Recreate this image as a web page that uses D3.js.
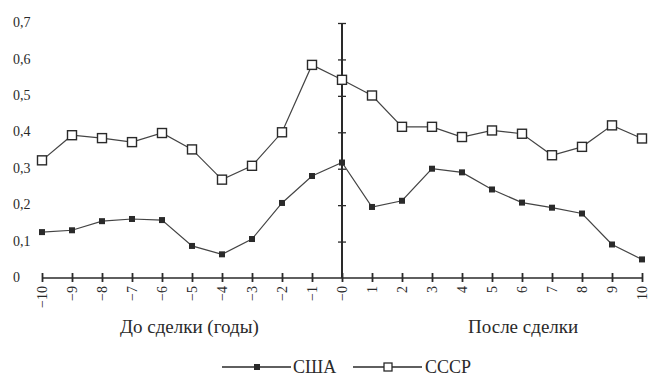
<!DOCTYPE html>
<html>
<head>
<meta charset="utf-8">
<script src="https://cdn.jsdelivr.net/npm/d3@7"></script>
<style>
  body { margin: 0; background: #fff; }
  svg text { font-family: "Liberation Serif", "Times New Roman", "DejaVu Serif", serif !important; }
</style>
</head>
<body>
<div id="graph"></div>
<script>
// years relative to the deal
var years = [-10, -9, -8, -7, -6, -5, -4, -3, -2, -1, 0, 1, 2, 3, 4, 5, 6, 7, 8, 9, 10];
var yearLabels = ["\u221210", "\u22129", "\u22128", "\u22127", "\u22126", "\u22125", "\u22124", "\u22123", "\u22122", "\u22121", "\u22120",
                  "1", "2", "3", "4", "5", "6", "7", "8", "9", "10"];
var usa  = [0.126, 0.131, 0.156, 0.162, 0.159, 0.088, 0.065, 0.107, 0.206, 0.280, 0.317,
            0.195, 0.212, 0.300, 0.290, 0.243, 0.207, 0.193, 0.177, 0.092, 0.051];
var ussr = [0.323, 0.392, 0.384, 0.373, 0.398, 0.353, 0.270, 0.308, 0.400, 0.585, 0.544,
            0.501, 0.415, 0.415, 0.387, 0.405, 0.396, 0.337, 0.360, 0.419, 0.383];
var yTicks = [0, 0.1, 0.2, 0.3, 0.4, 0.5, 0.6, 0.7];
var yTickLabels = ["0", "0,1", "0,2", "0,3", "0,4", "0,5", "0,6", "0,7"];
var seriesNames = ["США", "СССР"];

var width = 650, height = 377;
var ink = "#2a2a2a";

var svg = d3.select("#graph").append("svg")
  .attr("width", width).attr("height", height)
  .style("display", "block");

var x = d3.scaleLinear().domain([-10, 10]).range([42, 642]);
var y = d3.scaleLinear().domain([0, 0.7]).range([278, 23]);

// x axis
var xAxis = d3.axisBottom(x).tickValues(years).tickSize(4)
  .tickFormat(function (d, i) { return yearLabels[i]; });
var gx = svg.append("g").attr("transform", "translate(0," + y(0) + ")").call(xAxis);
gx.select(".domain").attr("d", "M" + x(-10) + ",0H" + x(10))
  .attr("stroke", ink).attr("stroke-width", 1.4);
gx.selectAll(".tick line").attr("y1", -5).attr("y2", 4)
  .attr("stroke", ink).attr("stroke-width", 1.8);
gx.selectAll(".tick text")
  .attr("fill", ink)
  .style("font-size", "14px")
  .attr("text-anchor", "end")
  .attr("dy", "0.32em")
  .attr("transform", "translate(0,8) rotate(-90)")
  .attr("x", 0).attr("y", 0);

// vertical axis at zero
var yAxis = d3.axisLeft(y).tickValues(yTicks.slice(1)).tickSize(4).tickFormat("");
var gy = svg.append("g").attr("transform", "translate(" + x(0) + ",0)").call(yAxis);
gy.select(".domain").attr("d", "M0," + y(0) + "V" + y(0.7))
  .attr("stroke", ink).attr("stroke-width", 2);
gy.selectAll(".tick line").attr("x1", -4).attr("x2", 4)
  .attr("stroke", ink).attr("stroke-width", 1.3);

// y labels on the left
svg.append("g").selectAll("text").data(yTicks).enter().append("text")
  .attr("x", 13).attr("y", function (d) { return y(d); })
  .attr("dy", "0.3em")
  .attr("fill", ink)
  .style("font-size", "14px")
  .text(function (d, i) { return yTickLabels[i]; });

var line = d3.line()
  .x(function (d, i) { return x(years[i]); })
  .y(function (d) { return y(d); });

svg.append("path").datum(ussr).attr("d", line)
  .attr("fill", "none").attr("stroke", "#444").attr("stroke-width", 1.2);
svg.append("path").datum(usa).attr("d", line)
  .attr("fill", "none").attr("stroke", "#444").attr("stroke-width", 1.2);

svg.append("g").selectAll("rect").data(ussr).enter().append("rect")
  .attr("x", function (d, i) { return x(years[i]) - 4.5; })
  .attr("y", function (d) { return y(d) - 4.5; })
  .attr("width", 9).attr("height", 9)
  .attr("fill", "#fff").attr("stroke", ink).attr("stroke-width", 1.4);

svg.append("g").selectAll("rect").data(usa).enter().append("rect")
  .attr("x", function (d, i) { return x(years[i]) - 3; })
  .attr("y", function (d) { return y(d) - 3; })
  .attr("width", 6).attr("height", 6)
  .attr("fill", ink);

// period captions
svg.append("text").attr("x", 120).attr("y", 333)
  .attr("fill", ink).style("font-size", "19px").text("До сделки (годы)");
svg.append("text").attr("x", 468).attr("y", 333)
  .attr("fill", ink).style("font-size", "19px").text("После сделки");

// legend
var legend = svg.append("g");
var legX = [222, 353];
var legText = [293, 425];
legend.selectAll("line").data(legX).enter().append("line")
  .attr("x1", function (d) { return d; }).attr("x2", function (d) { return d + 69; })
  .attr("y1", 367).attr("y2", 367)
  .attr("stroke", ink).attr("stroke-width", 1.3);
legend.append("rect").attr("x", legX[0] + 35 - 3).attr("y", 364).attr("width", 6).attr("height", 6)
  .attr("fill", ink);
legend.append("rect").attr("x", legX[1] + 35 - 4).attr("y", 363).attr("width", 8).attr("height", 8)
  .attr("fill", "#fff").attr("stroke", ink).attr("stroke-width", 1.3);
legend.selectAll("text").data(seriesNames).enter().append("text")
  .attr("x", function (d, i) { return legText[i]; }).attr("y", 373)
  .attr("fill", ink).style("font-size", "18px")
  .text(function (d) { return d; });
</script>
</body>
</html>
